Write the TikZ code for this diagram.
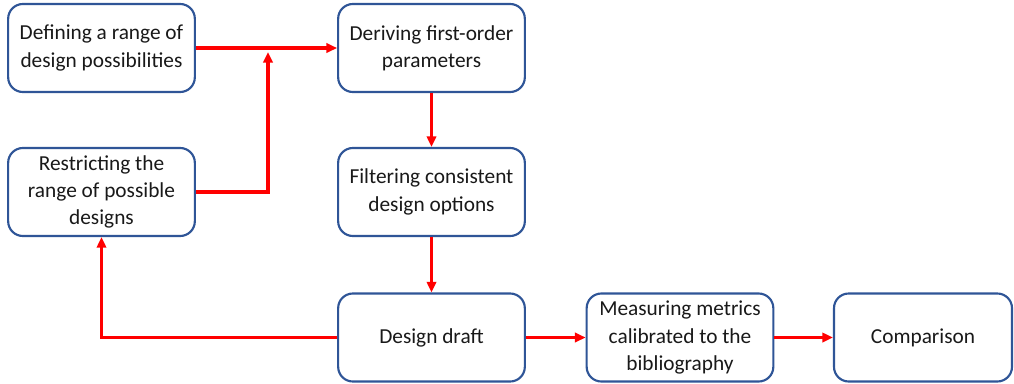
\documentclass[tikz,border=0pt]{standalone}
\usepackage{fontspec}
\setmainfont{Carlito}
\usetikzlibrary{arrows.meta}
\definecolor{boxblue}{HTML}{2F5597}
\definecolor{arrred}{HTML}{FF0000}
\begin{document}
\begin{tikzpicture}[x=0.75pt,y=-0.75pt,
  stepbox/.style={draw=boxblue,line width=1.6pt,rounded corners=11pt,fill=white,
    minimum width=140pt,minimum height=66pt,align=center,inner sep=2pt,
    font=\fontsize{16}{20.5}\selectfont,text=black!90},
  flow/.style={draw=arrred,line width=2.3pt,-{Triangle[length=8pt,width=7pt]}},
  flowline/.style={draw=arrred,line width=2.3pt}]
\useasboundingbox (0,0) rectangle (1014,383);
\node[stepbox] (b1) at (101.5,48) {Defining a range of\\design possibilities};
\node[stepbox] (b2) at (431.5,48) {Deriving first-order\\parameters};
\node[stepbox] (b3) at (101.5,192) {Restricting the\\range of possible\\designs};
\node[stepbox] (b4) at (431.5,192) {Filtering consistent\\design options};
\node[stepbox] (b5) at (431.5,337.5) {Design draft};
\node[stepbox] (b6) at (680,337.5) {Measuring metrics\\calibrated to the\\bibliography};
\node[stepbox,minimum width=133.5pt] (b7) at (923,337.5) {Comparison};
\coordinate (j1) at (268,52);
\draw[flow] (b1.east) -- (b2.west);
\draw[flow] (b3.east) -| (j1);
\draw[flow] (b2.south) -- (b4.north);
\draw[flow] (b4.south) -- (b5.north);
\draw[flow] (b5.west) -| (b3.south);
\draw[flow] (b5.east) -- (b6.west);
\draw[flow] (b6.east) -- (b7.west);
\end{tikzpicture}
\end{document}
